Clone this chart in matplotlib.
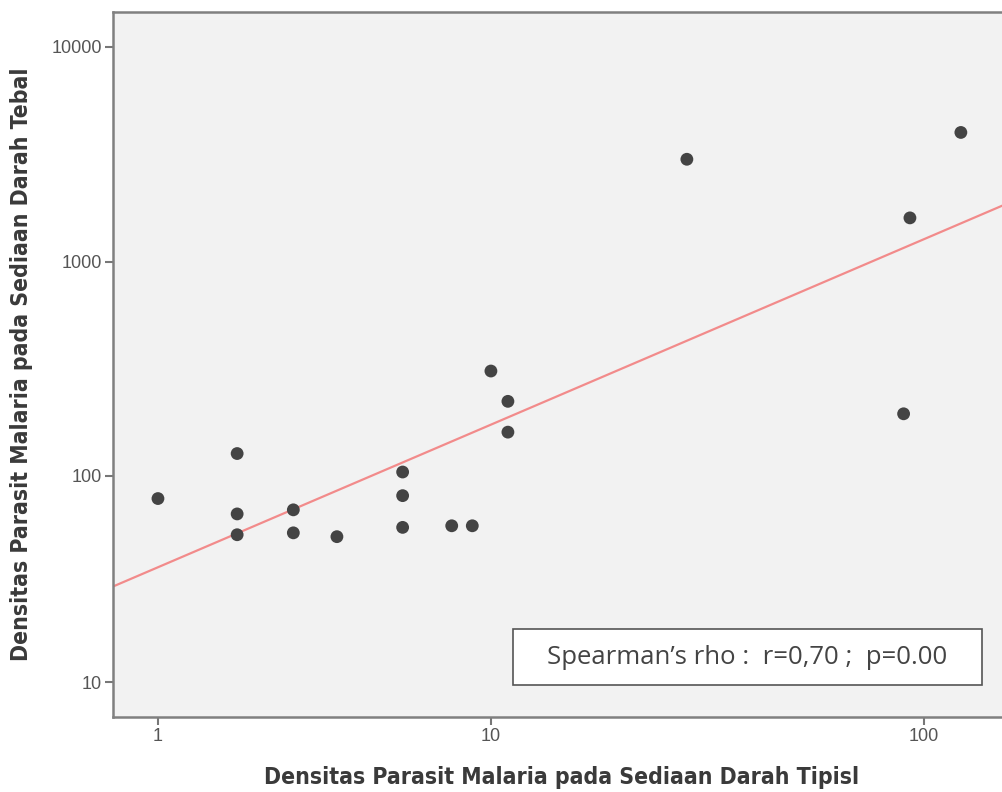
import numpy as np
import matplotlib
matplotlib.use("Agg")
import matplotlib.pyplot as plt
from matplotlib.patches import Rectangle
from matplotlib import font_manager

# Data (x: thin smear density, y: thick smear density)
x_tipis = [1, 2, 2, 2, 3, 3, 4, 6, 6, 6, 8, 9, 10, 11, 11, 29, 90, 93, 121]
y_tebal = [78, 127, 66, 52.6, 69, 53.7, 51.5, 104, 80.5, 57, 58, 58, 309, 223, 160, 3000, 195, 1600, 4000]
x_ticks = [1, 10, 100]
y_ticks = [10, 100, 1000, 10000]
x_label = "Densitas Parasit Malaria pada Sediaan Darah Tipisl"
y_label = "Densitas Parasit Malaria pada Sediaan Darah Tebal"
annot = "Spearman\u2019s rho :  r=0,70 ;  p=0.00"


def fwd(v):
    return np.log10(np.asarray(v, dtype=float) + 1.0)


def inv(u):
    return 10.0 ** np.asarray(u, dtype=float) - 1.0


# find a condensed bold font if one is installed
label_font = None
for f in font_manager.fontManager.ttflist:
    nm = (f.fname + " " + f.name).lower()
    if ("condensed" in nm or "narrow" in nm) and str(f.weight) in ("bold", "700"):
        label_font = font_manager.FontProperties(fname=f.fname)
        break
if label_font is None:
    label_font = font_manager.FontProperties(family="DejaVu Sans", weight="bold")

W, H = 1003, 792
fig = plt.figure(figsize=(W / 100, H / 100), dpi=100)
fig.patch.set_facecolor("white")

L, R, T, B = 113, 1010, 11.7, 716.7
ax = fig.add_axes([L / W, (H - B) / H, (R - L) / W, (B - T) / H])
ax.set_facecolor("#f2f2f2")

ax.set_xscale("function", functions=(fwd, inv))
ax.set_yscale("function", functions=(fwd, inv))
ax.set_xlim(0.5888, 155.9)
ax.set_ylim(6.62, 14599)

# fit line in transformed space
xs = np.array(x_tipis, dtype=float)
ys = np.array(y_tebal, dtype=float)
slope, intercept = np.polyfit(fwd(xs), fwd(ys), 1)
uu = np.linspace(fwd(0.5888), fwd(155.9), 200)
ax.plot(inv(uu), inv(intercept + slope * uu), color="#f28b8b", lw=1.6, zorder=2)

ax.scatter(xs, ys, s=85, color="#444444", edgecolors="none", zorder=3)

ax.set_xticks(x_ticks)
ax.set_xticklabels([str(t) for t in x_ticks])
ax.set_yticks(y_ticks)
ax.set_yticklabels([str(t) for t in y_ticks])
ax.minorticks_off()
ax.tick_params(axis="both", length=6, width=1.5, color="#777777",
               labelcolor="#555555", labelsize=13, pad=2)
for lab in ax.get_xticklabels() + ax.get_yticklabels():
    lab.set_family(["Liberation Sans", "DejaVu Sans"])

for side in ["left", "bottom", "top", "right"]:
    ax.spines[side].set_color("#808080")
    ax.spines[side].set_linewidth(1.8)

lp = label_font.copy()
lp.set_size(16)
xl = ax.set_xlabel(x_label, fontproperties=lp, color="#3a3a3a", labelpad=15)
yl = ax.set_ylabel(y_label, fontproperties=lp, color="#3a3a3a", labelpad=13)

# rescale labels to the reference width (597 px)
fig.canvas.draw()
r = fig.canvas.get_renderer()
wx = xl.get_window_extent(r).width
if wx > 0:
    lp2 = lp.copy()
    lp2.set_size(lp.get_size() * 597.0 / wx)
    xl.set_fontproperties(lp2)
    yl.set_fontproperties(lp2)

# annotation box
bx0, bx1, by0, by1 = 513, 982, 629, 685
fig.patches.append(Rectangle((bx0 / W, (H - by1) / H), (bx1 - bx0) / W, (by1 - by0) / H,
                             transform=fig.transFigure, facecolor="white",
                             edgecolor="#555555", lw=1.2, zorder=5))
fig.text((bx0 + bx1) / 2 / W, (H - (by0 + by1) / 2) / H, annot, ha="center", va="center",
         fontsize=18.5, color="#444444", family=["Open Sans", "DejaVu Sans"], zorder=6)

fig.savefig("out.png", dpi=100)
